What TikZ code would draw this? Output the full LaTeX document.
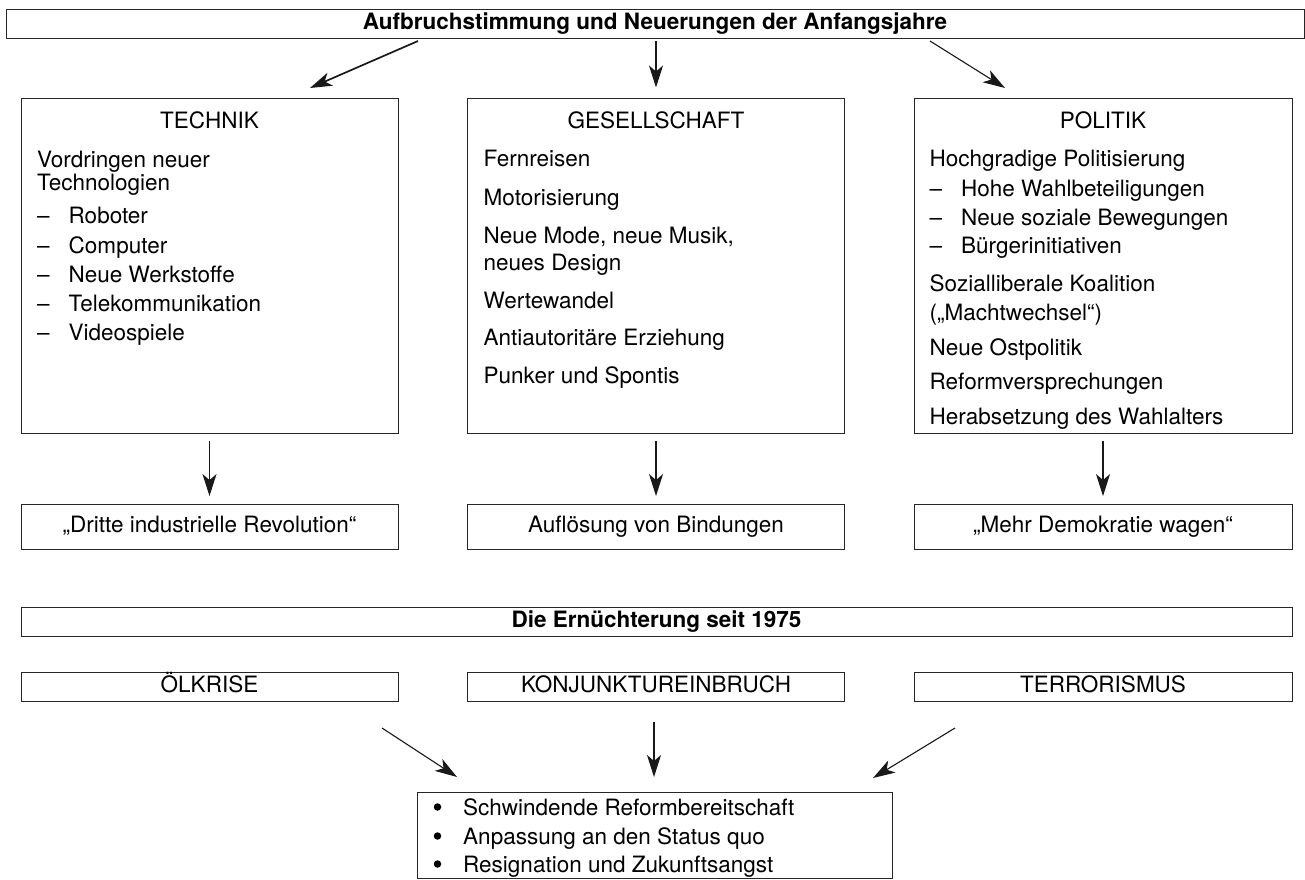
\documentclass[tikz,border=0pt]{standalone}
\usepackage{fontspec}
\setmainfont{TeX Gyre Heros}
\usetikzlibrary{arrows.meta}

\newcommand{\strich}{\makebox[31.5bp][l]{–}}

\tikzset{
  schrift/.style={font=\fontsize{22.5bp}{26bp}\selectfont},
  kasten/.style={draw=black!85, line width=0.9bp, inner sep=0pt, schrift,
    text height=16bp, text depth=5bp},
  fett/.style={kasten, font=\bfseries\fontsize{22.5bp}{26bp}\selectfont},
  zeile/.style={anchor=base west, inner sep=0pt, schrift},
  kopf/.style={anchor=base, inner sep=0pt, schrift},
  punkt/.style={circle, fill=black, inner sep=0pt, minimum size=7.5bp},
  pfeil/.style={-{Stealth[length=22bp,width=14bp,inset=6bp]}, line width=1.1bp, black!90},
}

\begin{document}
\begin{tikzpicture}[x=1bp, y=-1bp]
    \useasboundingbox (0,0) rectangle (1305,879);

    % oberer Teil
    \node[fett, minimum width=1298bp, minimum height=29bp] (aufbruch) at (655,23.5)
        {Aufbruchstimmung und Neuerungen der Anfangsjahre};

    \node[kasten, minimum width=377bp, minimum height=335bp] (technik) at (209.5,265.5) {};
    \node[kasten, minimum width=377bp, minimum height=335bp] (gesell) at (656,265.5) {};
    \node[kasten, minimum width=378bp, minimum height=335bp] (politik) at (1103,265.5) {};

    \node[kopf] (tk) at (209.5,128) {TECHNIK};
    \node[kopf] (gk) at (656,128) {GESELLSCHAFT};
    \node[kopf] (pk) at (1103,128) {POLITIK};

    \foreach \y/\t [count=\i] in {167.7/Vordringen neuer, 190/Technologien}
        \node[zeile] (te\i) at (37,\y) {\t};
    \foreach \y/\t [count=\i] in {223/Roboter, 253/Computer, 282/Neue Werkstoffe,
                                  311.5/Telekommunikation, 340/Videospiele}
        \node[zeile] (ts\i) at (37,\y) {\strich\t};

    \foreach \y/\t [count=\i] in {166.7/Fernreisen, 205/Motorisierung,
                                  243.3/{Neue Mode, neue Musik,}, 270/neues Design,
                                  308/Wertewandel, 345/Antiautoritäre Erziehung,
                                  383/Punker und Spontis}
        \node[zeile] (ge\i) at (483.5,\y) {\t};

    \node[zeile] (po1) at (929.5,166.7) {Hochgradige Politisierung};
    \foreach \y/\t [count=\i] in {196.7/Hohe Wahlbeteiligungen, 225/Neue soziale Bewegungen,
                                  253.3/Bürgerinitiativen}
        \node[zeile] (ps\i) at (929.5,\y) {\strich\t};
    \foreach \y/\t [count=\i] in {291.5/Sozialliberale Koalition, 320/(„Machtwechsel“),
                                  355/Neue Ostpolitik, 389.5/Reformversprechungen,
                                  424.5/Herabsetzung des Wahlalters}
        \node[zeile] (pw\i) at (929.5,\y) {\t};

    \node[kasten, minimum width=377bp, minimum height=45bp] (revolution) at (209.5,526.5)
        {„Dritte industrielle Revolution“};
    \node[kasten, minimum width=377bp, minimum height=45bp] (bindung) at (656,526.5)
        {Auflösung von Bindungen};
    \node[kasten, minimum width=378bp, minimum height=45bp] (demokratie) at (1103,526.5)
        {„Mehr Demokratie wagen“};

    \coordinate (a1) at (418,41);   \coordinate (b1) at (310,88);
    \coordinate (a2) at (656,41);   \coordinate (b2) at (656,87.5);
    \coordinate (a3) at (930,41);   \coordinate (b3) at (1005,88);
    \draw[pfeil, line width=1.7bp] (a1) -- (b1);
    \draw[pfeil] (a2) -- (b2);
    \draw[pfeil] (a3) -- (b3);

    \draw[pfeil] ([yshift=-8bp]technik.south) -- ([yshift=7.5bp]revolution.north);
    \draw[pfeil] ([yshift=-8bp]gesell.south) -- ([yshift=7.5bp]bindung.north);
    \draw[pfeil] ([yshift=-8bp]politik.south) -- ([yshift=7.5bp]demokratie.north);

    % unterer Teil
    \node[fett, minimum width=1271bp, minimum height=29.5bp] (ernuechterung) at (656.5,622)
        {Die Ernüchterung seit 1975};

    \node[kasten, minimum width=377bp, minimum height=29bp] (oel) at (209.5,686.5) {ÖLKRISE};
    \node[kasten, minimum width=377bp, minimum height=29bp] (konjunktur) at (656,686.5)
        {KONJUNKTUREINBRUCH};
    \node[kasten, minimum width=378bp, minimum height=29bp] (terror) at (1103,686.5)
        {TERRORISMUS};

    \node[kasten, minimum width=475bp, minimum height=86bp] (folgen) at (654.5,835) {};
    \foreach \y/\t [count=\i] in {815/Schwindende Reformbereitschaft,
                                  844/Anpassung an den Status quo,
                                  872/Resignation und Zukunftsangst}
    {
        \node[punkt] (pu\i) at (437.5,\y-8) {};
        \node[zeile] (fo\i) at (463,\y) {\t};
    }

    \coordinate (c1) at (382,728);  \coordinate (d1) at (457,777);
    \coordinate (c2) at (654,722);  \coordinate (d2) at (654,777);
    \coordinate (c3) at (955,728);  \coordinate (d3) at (873,778);
    \draw[pfeil] (c1) -- (d1);
    \draw[pfeil] (c2) -- (d2);
    \draw[pfeil] (c3) -- (d3);
\end{tikzpicture}
\end{document}
